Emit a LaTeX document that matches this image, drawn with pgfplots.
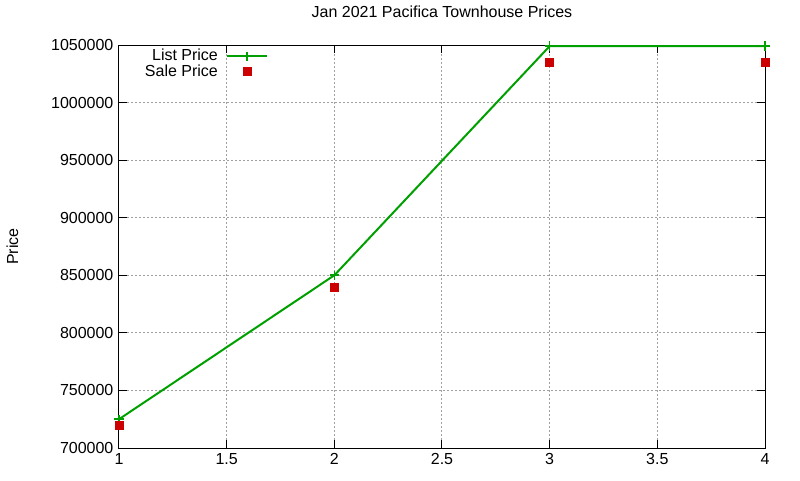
\documentclass[border=0pt]{standalone}
\usepackage{pgfplots}
\pgfplotsset{compat=1.18}
\usepackage{fontspec}
\setmainfont{Liberation Sans}
\definecolor{gpgreen}{RGB}{0,160,0}
\definecolor{gpred}{RGB}{204,0,0}
\definecolor{gpgrid}{RGB}{160,160,160}
\begin{document}
\fontsize{12}{14}\selectfont
\begin{tikzpicture}
\begin{axis}[
    scale only axis,
    width=484.5pt, height=302.25pt,
    xmin=1, xmax=4, ymin=700000, ymax=1050000,
    xtick={1,1.5,...,4}, ytick={700000,750000,...,1050000},
    /pgf/number format/assume math mode=true,
    /pgf/number format/1000 sep={},
    scaled y ticks=false,
    yticklabel style={/pgf/number format/fixed},
    grid=major,
    major grid style={gpgrid, dash pattern=on 1.5pt off 1.5pt, line width=0.75pt},
    axis line style={black, line width=0.75pt},
    tick style={black, line width=0.75pt},
    major tick length=6pt,
    title={Jan 2021 Pacifica Townhouse Prices},
    title style={at={(0.5,1)}, anchor=center, yshift=18.75pt},
    ylabel={Price},
    every axis y label/.style={at={(rel axis cs:0,0.5)}, xshift=-80pt, rotate=90, anchor=center},
    legend plot pos=right,
    legend cell align=right,
    legend style={draw=none, fill=none, at={(0.233,1.0)}, anchor=north east,
        inner sep=1pt, row sep=-3pt, column sep=4pt},
    legend image code/.code={\draw[mark repeat=2,mark phase=2,#1] plot coordinates {(0pt,0pt) (15pt,0pt) (30pt,0pt)};},
]
\addplot[color=gpgreen, line width=1.5pt, mark=+, mark size=3.5pt, mark options={line width=1.2pt}]
coordinates {(1,725000) (2,850000) (3,1049000) (4,1049000)};
\addplot[only marks, color=gpred, mark=square*, mark size=3pt]
coordinates {(1,720000) (2,840000) (3,1035000) (4,1035000)};
\legend{List Price, Sale Price}
\end{axis}
\pgfresetboundingbox
\useasboundingbox (-89.25pt,-24pt) rectangle (510.75pt,336pt);
\end{tikzpicture}
\end{document}
